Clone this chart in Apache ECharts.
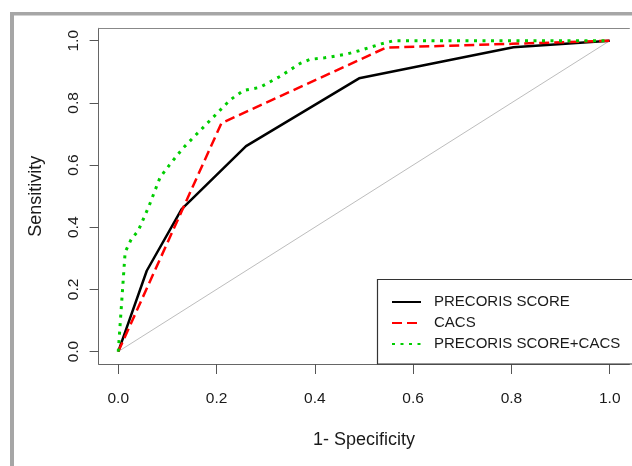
<!DOCTYPE html>
<html>
<head>
<meta charset="utf-8">
<script src="https://cdn.jsdelivr.net/npm/echarts@6/dist/echarts.min.js"></script>
<style>
html,body{margin:0;padding:0;background:#fff;}
#chart{width:632px;height:466px;}
</style>
</head>
<body>
<div id="chart"></div>
<script>
// ---- data ----
const tickValues = [0, 0.2, 0.4, 0.6, 0.8, 1.0];
const seriesNames = ['PRECORIS SCORE', 'CACS', 'PRECORIS SCORE+CACS'];

const precorisX = [0, 0.058, 0.129, 0.26, 0.49, 0.804, 1];
const precorisY = [0, 0.26, 0.458, 0.661, 0.879, 0.979, 1];

const cacsX = [0, 0.05, 0.21, 0.545, 0.8, 1];
const cacsY = [0, 0.175, 0.735, 0.978, 0.99, 1];

const comboX = [0, 0.014, 0.026, 0.041, 0.063, 0.085, 0.104, 0.132, 0.166, 0.2, 0.228, 0.255, 0.288, 0.329, 0.37, 0.39, 0.42, 0.465, 0.49, 0.535, 0.56, 1];
const comboY = [0, 0.32, 0.36, 0.39, 0.47, 0.56, 0.6, 0.655, 0.71, 0.765, 0.81, 0.84, 0.85, 0.885, 0.927, 0.94, 0.945, 0.957, 0.968, 0.99, 1, 1];

const refX = [0, 1];
const refY = [0, 1];

const pairs = (xs, ys) => xs.map((x, i) => [x, ys[i]]);

const chart = echarts.init(document.getElementById('chart'), null, {renderer: 'canvas'});
const FONT = 'Liberation Sans, Arial, sans-serif';
const TXT = '#1a1a1a';
const BOX = '#666';

const option = {
  animation: false,
  backgroundColor: '#fff',
  grid: {left: 98.6, right: 2.6, top: 28.3, bottom: 102, containLabel: false},
  xAxis: [{
    type: 'value', min: -0.04, max: 1.04,
    name: '1- Specificity', nameLocation: 'middle', nameGap: 67,
    nameTextStyle: {fontFamily: FONT, fontSize: 18, color: TXT},
    splitLine: {show: false},
    axisLine: {show: true, onZero: false, lineStyle: {color: BOX, width: 1}},
    axisTick: {show: true, length: 10, customValues: tickValues, lineStyle: {color: '#555', width: 1}},
    axisLabel: {customValues: tickValues, margin: 27, fontFamily: FONT, fontSize: 15.5, color: TXT,
      formatter: v => v.toFixed(1)}
  }, {
    type: 'value', min: -0.04, max: 1.04, position: 'top',
    splitLine: {show: false},
    axisLine: {show: true, onZero: false, lineStyle: {color: '#888', width: 1}},
    axisTick: {show: false}, axisLabel: {show: false}
  }],
  yAxis: {
    type: 'value', min: -0.04, max: 1.04,
    name: 'Sensitivity', nameLocation: 'middle', nameGap: 54,
    nameTextStyle: {fontFamily: FONT, fontSize: 18, color: TXT},
    splitLine: {show: false},
    axisLine: {show: true, onZero: false, lineStyle: {color: BOX, width: 1}},
    axisTick: {show: true, length: 9, customValues: tickValues, lineStyle: {color: '#555', width: 1}},
    axisLabel: {customValues: tickValues, rotate: 90, margin: 17, fontFamily: FONT, fontSize: 15.5, color: TXT,
      formatter: v => v.toFixed(1)}
  },
  legend: {
    orient: 'vertical', left: 391, top: 294.5,
    itemWidth: 29, itemHeight: 15, itemGap: 6, padding: 0,
    data: seriesNames,
    itemStyle: {opacity: 0},
    textStyle: {fontFamily: FONT, fontSize: 15, color: TXT, lineHeight: 15, padding: [0, 0, 0, 8]}
  },
  graphic: [
    {type: 'rect', silent: true, z: 100, shape: {x: 10, y: 12, width: 622, height: 3.5}, style: {fill: '#a6a6a6'}},
    {type: 'rect', silent: true, z: 100, shape: {x: 10, y: 12, width: 4, height: 454}, style: {fill: '#a6a6a6'}},
    {type: 'rect', silent: true, z: 5, shape: {x: 377.5, y: 279.5, width: 270, height: 84.5},
      style: {fill: 'rgba(0,0,0,0)', stroke: '#333', lineWidth: 1.2}}
  ],
  series: [
    {type: 'line', name: 'ref', data: pairs(refX, refY), symbol: 'none', silent: true,
      lineStyle: {color: '#bdbdbd', width: 1}, z: 1},
    {type: 'line', name: seriesNames[0], data: pairs(precorisX, precorisY), symbol: 'none',
      itemStyle: {color: '#000'}, lineStyle: {color: '#000', width: 2.5}, z: 2},
    {type: 'line', name: seriesNames[1], data: pairs(cacsX, cacsY), symbol: 'none',
      itemStyle: {color: '#ff0000'}, lineStyle: {color: '#ff0000', width: 2.5, type: [10, 5]}, z: 3},
    {type: 'line', name: seriesNames[2], data: pairs(comboX, comboY), symbol: 'none',
      itemStyle: {color: '#00cd00'}, lineStyle: {color: '#00cd00', width: 3, type: [3, 5.5]}, z: 4}
  ]
};
chart.setOption(option);
</script>
</body>
</html>
